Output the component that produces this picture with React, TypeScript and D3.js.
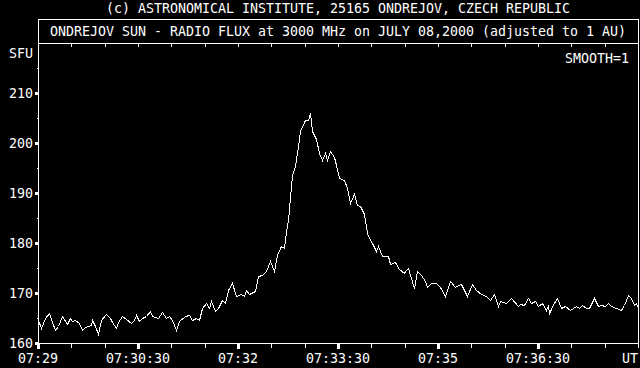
import React from "react";
import * as d3 from "d3";

// ---- data ----
const startTime = "07:29:00";
const endTime = "07:38:00";
// seconds after 07:29:00
const sampleSeconds = [
  0, 3, 6, 10, 13, 15, 18, 22, 26, 29, 31, 33, 37, 40, 42, 45, 48, 49, 51, 54,
  57, 61, 65, 67, 70, 72, 76, 79, 84, 86, 88, 91, 94, 97, 101, 103, 108, 112, 115, 118,
  121, 124, 127, 132, 136, 139, 142, 145, 148, 151, 154, 156, 159, 162, 166, 168, 171, 175, 178, 183,
  185, 187, 190, 195, 198, 202, 205, 209, 212, 215, 219, 221, 223, 225, 227, 229, 231, 234, 236, 240,
  243, 245, 247, 250, 253, 256, 258, 260, 263, 266, 268, 271, 275, 278, 281, 284, 287, 290, 293, 296,
  299, 301, 304, 306, 310, 315, 317, 321, 325, 329, 330, 333, 335, 338, 341, 345, 348, 350, 354, 358,
  362, 366, 371, 375, 378, 381, 386, 391, 394, 399, 403, 407, 410, 414, 416, 421, 426, 432, 434, 437,
  441, 444, 447, 450, 454, 457, 459, 460, 463, 467, 471, 474, 479, 484, 487, 490, 493, 496, 500, 504,
  507, 510, 513, 516, 520, 525, 527, 531, 534, 536, 538, 540,
];
const fluxSfu = [
  164.6, 163.0, 165.0, 166.1, 164.2, 162.6, 163.4, 165.4, 163.8, 165.1, 164.4, 164.7, 164.1, 162.6, 163.2, 163.5, 163.6, 164.6, 163.4, 161.8,
  164.7, 165.9, 164.9, 164.2, 163.0, 164.2, 165.3, 164.8, 164.1, 164.6, 165.6, 164.4, 164.9, 165.3, 166.5, 165.3, 165.1, 166.2, 164.9, 165.4,
  164.6, 162.6, 164.3, 165.4, 165.6, 164.7, 165.1, 164.6, 166.9, 168.1, 166.9, 168.3, 166.5, 166.9, 168.6, 167.9, 170.6, 172.1, 169.3, 169.8,
  169.4, 170.7, 169.8, 170.3, 173.3, 173.7, 174.3, 176.3, 174.3, 177.6, 179.3, 179.0, 182.2, 184.6, 189.2, 193.6, 195.3, 199.4, 202.4, 204.5,
  204.5, 206.1, 202.3, 200.8, 198.0, 196.7, 198.1, 196.7, 198.5, 197.2, 195.6, 193.1, 192.6, 191.1, 188.1, 189.8, 187.6, 187.3, 185.8, 182.1,
  180.6, 180.0, 178.3, 179.3, 177.3, 177.3, 175.8, 176.2, 174.9, 173.9, 174.4, 175.1, 173.6, 171.0, 174.3, 173.6, 172.3, 171.3, 172.0, 172.1,
  171.3, 169.4, 172.3, 171.2, 171.6, 171.8, 169.4, 171.8, 170.6, 169.9, 169.4, 168.7, 169.9, 167.3, 168.3, 168.1, 169.1, 167.3, 167.8, 167.6,
  169.1, 167.9, 168.3, 167.3, 168.1, 166.7, 167.6, 165.9, 167.3, 168.9, 167.1, 167.4, 166.7, 167.3, 166.9, 167.6, 167.1, 166.9, 168.9, 167.3,
  167.6, 167.4, 167.9, 167.4, 167.1, 166.7, 167.6, 169.7, 168.9, 167.6, 167.9, 166.9,
];
const xTickLabels = ["07:29", "07:30:30", "07:32", "07:33:30", "07:35", "07:36:30"];
const yTickValues = [160, 170, 180, 190, 200, 210];
const yDomain = [160, 220];
const copyright = "(c) ASTRONOMICAL INSTITUTE, 25165 ONDREJOV, CZECH REPUBLIC";
const header = "ONDREJOV SUN - RADIO FLUX at 3000 MHz on JULY 08,2000 (adjusted to 1 AU)";
const smoothLabel = "SMOOTH=1";
const unitLabel = "SFU";
const timeUnit = "UT";

const W = 640;
const H = 368;
const L = 38;
const R = 638;
const T = 43;
const B = 343;
const FONT = "'DejaVu Sans Mono', 'Liberation Mono', monospace";
const FS = 13.3;
const CH = 8;

const parseT = d3.utcParse("%H:%M:%S");
const parseTick = (s: string) => parseT(s.length === 5 ? s + ":00" : s) as Date;

function Txt({ x, y, s, anchor = "start" }: { x: number; y: number; s: string; anchor?: string }) {
  return (
    <text
      x={x}
      y={y}
      fill="#fff"
      fontFamily={FONT}
      fontSize={FS}
      textAnchor={anchor}
      textLength={s.length * CH}
      lengthAdjust="spacingAndGlyphs"
    >
      {s}
    </text>
  );
}

export default function App() {
  const t0 = parseT(startTime) as Date;
  const t1 = parseT(endTime) as Date;
  const x = d3.scaleUtc().domain([t0, t1]).range([L, R]);
  const y = d3.scaleLinear().domain(yDomain).range([B, T]);

  const pts = sampleSeconds.map((s, i) => ({ t: d3.utcSecond.offset(t0, s), v: fluxSfu[i] }));
  const line = d3
    .line<{ t: Date; v: number }>()
    .x((d) => Math.round(x(d.t)) + 0.5)
    .y((d) => Math.round(y(d.v)) + 0.5);

  const minorTicks = d3.utcSecond.every(30)!.range(t0, d3.utcSecond.offset(t1, 1));
  const majorSet = new Set(xTickLabels.map((l) => parseTick(l).getTime()));
  const yMinor = d3.range(yDomain[0] + 5, yDomain[1], 10);

  return (
    <svg
      width={W}
      height={H}
      style={{ position: "absolute", left: 0, top: 0, display: "block", background: "#000" }}
    >
      <rect x={0} y={0} width={W} height={H} fill="#000" />
      <Txt x={(L + R) / 2} y={13} s={copyright} anchor="middle" />
      <rect x={L + 0.5} y={19.5} width={R - L} height={T - 19} fill="none" stroke="#fff" />
      <Txt x={(L + R) / 2} y={36} s={header} anchor="middle" />
      <rect x={L + 0.5} y={T + 0.5} width={R - L} height={B - T} fill="none" stroke="#fff" shapeRendering="crispEdges" />

      {minorTicks.map((t, i) => {
        const xx = Math.round(x(t));
        const major = majorSet.has(t.getTime());
        return (
          <g key={i} shapeRendering="crispEdges">
            <rect x={xx} y={T + 1} width={1} height={3} fill="#fff" />
            {major ? (
              <rect x={xx - 1} y={B + 1} width={3} height={5} fill="#fff" />
            ) : (
              <rect x={xx} y={B + 1} width={1} height={4} fill="#fff" />
            )}
          </g>
        );
      })}

      {yTickValues.map((v) => (
        <g key={v} shapeRendering="crispEdges">
          <rect x={L - 3} y={Math.round(y(v)) - 1} width={3} height={3} fill="#fff" />
          <Txt x={9} y={Math.round(y(v)) + 5} s={String(v)} />
        </g>
      ))}
      {yMinor.map((v) => (
        <rect key={v} x={L - 1} y={Math.round(y(v))} width={1} height={1} fill="#fff" shapeRendering="crispEdges" />
      ))}
      <Txt x={9} y={58} s={unitLabel} />
      <Txt x={629} y={63} s={smoothLabel} anchor="end" />

      {xTickLabels.map((l) => (
        <Txt key={l} x={x(parseTick(l))} y={363} s={l} anchor="middle" />
      ))}
      <Txt x={R} y={363} s={timeUnit} anchor="end" />

      <path d={line(pts) || ""} fill="none" stroke="#fff" strokeWidth={1} shapeRendering="crispEdges" />
    </svg>
  );
}
